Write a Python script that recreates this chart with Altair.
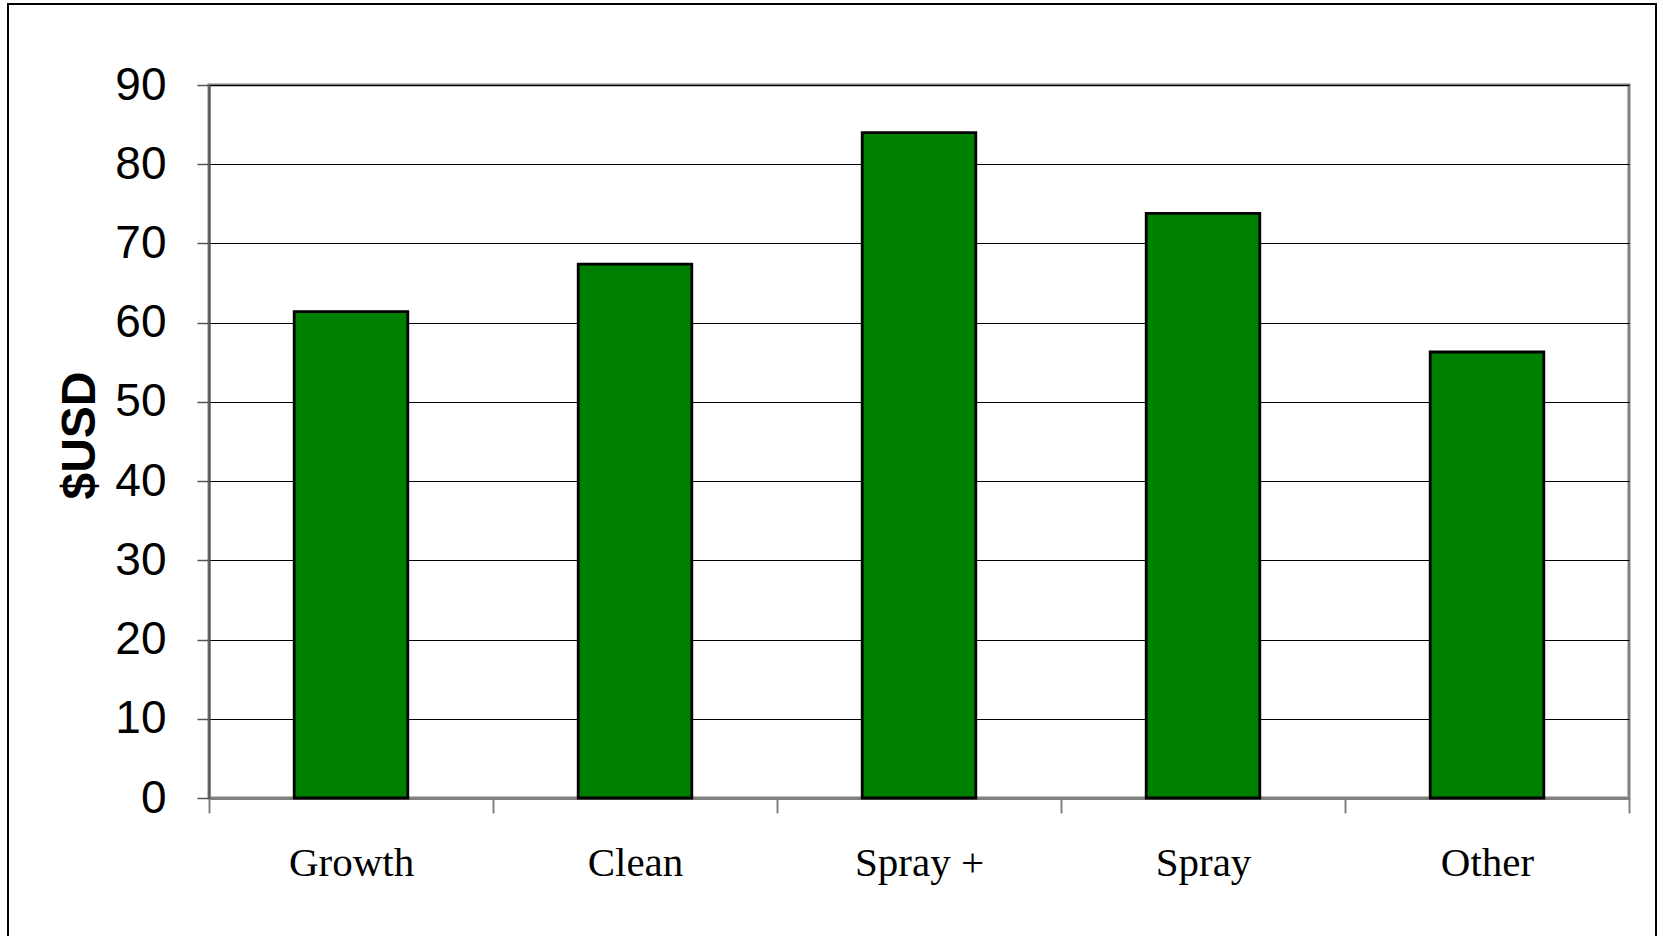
import altair as alt
import pandas as pd

categories = ["Growth", "Clean", "Spray +", "Spray", "Other"]
values = [61.4, 67.4, 84.0, 73.8, 56.3]
y_ticks = [0, 10, 20, 30, 40, 50, 60, 70, 80, 90]

df = pd.DataFrame({"category": categories, "usd": values})

W, H = 1420, 713

bars = alt.Chart(df).mark_bar(
    color="#008000", stroke="black", strokeWidth=2.8,
    width=alt.RelativeBandSize(0.4)
).encode(
    x=alt.X(
        "category:N", sort=categories,
        scale=alt.Scale(paddingInner=0, paddingOuter=0),
        axis=alt.Axis(
            title=None, labelAngle=0, labelFont="Liberation Serif",
            labelFontSize=41, labelColor="black", tickBand="extent",
            tickSize=15, tickColor="#808080", tickWidth=2,
            domainColor="#808080", domainWidth=3, labelPadding=30,
            grid=False,
        ),
    ),
    y=alt.Y(
        "usd:Q", scale=alt.Scale(domain=[0, 90], nice=False),
        axis=alt.Axis(
            values=y_ticks, title="$USD", titleFont="Liberation Sans",
            titleFontSize=48, titleFontWeight="bold", titleColor="black",
            labelFont="Liberation Sans", labelFontSize=46, labelColor="black",
            tickSize=12, tickColor="#555555", tickWidth=1.5, labelPadding=31,
            domainColor="#555555", domainWidth=2,
            gridColor="black", gridWidth=1, gridOpacity=1, titlePadding=10,
            titleY=350,
        ),
    ),
)

frame = alt.Chart(pd.DataFrame({"k": [0]})).mark_rect(
    fill=None, stroke="black", strokeWidth=2
).encode(
    x=alt.value(-201), x2=alt.value(1447), y=alt.value(-81), y2=alt.value(900)
)

chart = alt.layer(frame, bars).properties(
    width=W, height=H,
    autosize=alt.AutoSizeParams(type="none"),
    padding={"left": 209, "top": 85, "right": 34, "bottom": 138},
).configure_view(
    stroke="#808080", strokeWidth=3
)

chart.save("out.html", embed_options={"renderer": "svg", "actions": False})
